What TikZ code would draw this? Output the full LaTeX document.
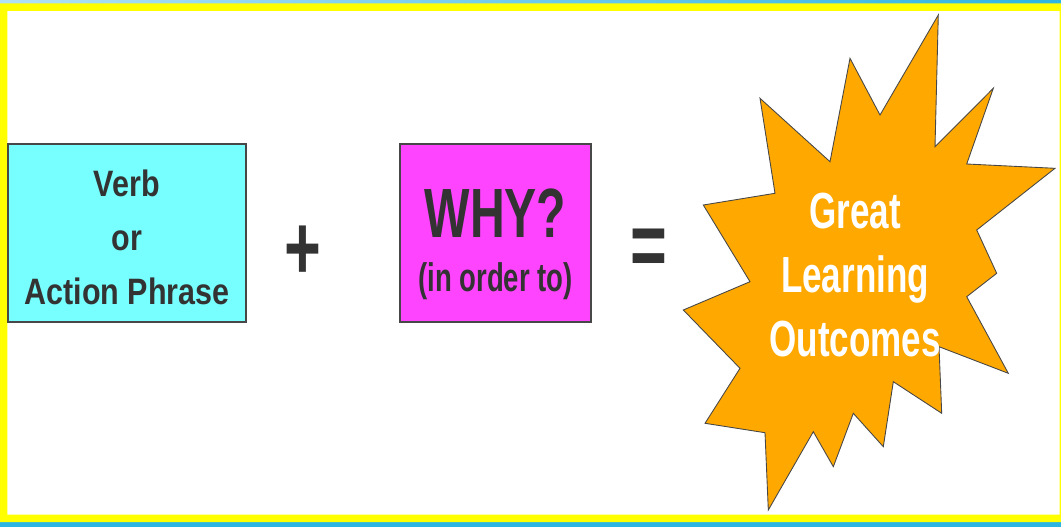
\documentclass[tikz,border=0pt]{standalone}
\usepackage{fontspec}
\setmainfont{Liberation Sans}
\newfontfamily\narrowsans[FakeStretch=0.83]{Liberation Sans}
\newfontfamily\condsans[FakeStretch=0.69]{Liberation Sans}
\usepackage{xcolor}
\usepackage{tikz}
\usetikzlibrary{positioning}
\definecolor{frameyellow}{HTML}{FFFF00}
\definecolor{stripblue}{HTML}{2CB5E2}
\definecolor{striplight}{HTML}{B0E0F4}
\definecolor{verbcyan}{HTML}{77FFFF}
\definecolor{whymagenta}{HTML}{FF44FF}
\definecolor{burstorange}{HTML}{FFA800}
\definecolor{inkgray}{HTML}{333333}

\begin{document}
\begin{tikzpicture}[x=0.02cm,y=-0.02cm,
  every node/.style={inner sep=0pt,outer sep=0pt},
  box/.style={rectangle,draw=inkgray!90,line width=0.6pt,minimum height=3.56cm},
  verbbox/.style={box,fill=verbcyan,minimum width=4.76cm},
  whybox/.style={box,fill=whymagenta,minimum width=3.82cm},
  boxtext/.style={align=center,text=inkgray,font=\narrowsans\bfseries\fontsize{20.9}{30.6}\selectfont},
  whytext/.style={align=center,text=inkgray,font=\condsans\bfseries\fontsize{39.7}{30.6}\selectfont},
  opsign/.style={text=inkgray,font=\condsans\bfseries\fontsize{52}{52}\selectfont},
  burst/.style={fill=burstorange,draw=inkgray!90,line width=0.5pt,line join=miter},
  bursttext/.style={align=center,text=white,font=\condsans\bfseries\fontsize{28.9}{36.3}\selectfont}
]
\useasboundingbox (0,0) rectangle (1061,527);
% frame
\fill[left color=striplight,right color=stripblue] (0,0) rectangle (1061,3.5);
\fill[stripblue] (0,522) rectangle (1061,527);
\fill[frameyellow,even odd rule] (0,3.5) rectangle (1061,522) (7.3,11) rectangle (1059.5,514.5);
% boxes
\node[verbbox] (verb) at (127,233) {};
\node[boxtext] (verbtext) at (127,237.5) {Verb\\or\\Action Phrase};
\node[opsign] (plus) at (303,253) {+};
\node[whybox] (why) at (495.5,233) {};
\node[whytext] (whytext) at (495.5,244) {WHY?\\{\fontsize{22.7}{30.6}\selectfont(in order to)}};
\node[opsign] (equals) at (649,252.5) {=};
% starburst
\draw[burst] (938.3,15) -- (935,146.7) -- (993.3,88.3) -- (966.7,164) -- (1055,168.3)
  -- (976.7,230) -- (996.7,273.3) -- (966.7,296.7) -- (1008.3,373.3) -- (939,346.7)
  -- (941.7,413.3) -- (893.3,381.7) -- (883.3,446.7) -- (853.3,413.3) -- (833.3,466.7)
  -- (813.3,431.7) -- (768.3,510) -- (765,432.7) -- (705,423.3) -- (740,368.3)
  -- (683.3,310) -- (750,281.7) -- (703.3,205) -- (775,193.3) -- (760,98.3)
  -- (830,161.7) -- (850,58.3) -- (880,115) -- cycle;
\node[bursttext] (outcome) at (855,275) {Great\\Learning\\Outcomes};
\end{tikzpicture}
\end{document}
